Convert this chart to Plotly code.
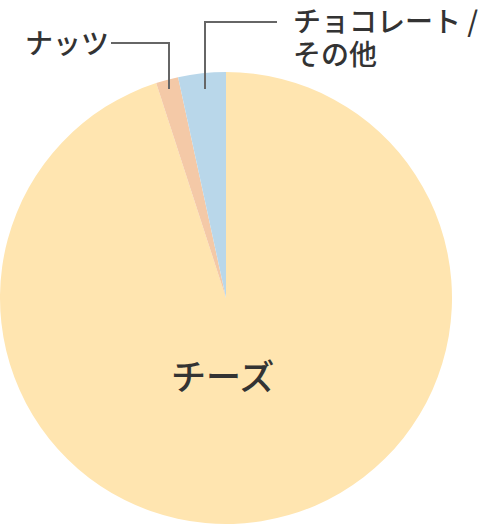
import plotly.graph_objects as go

# データ (12時から時計回り: チーズ → ナッツ → チョコレート)
labels = ["チーズ", "ナッツ", "チョコレート / その他"]
values = [95.0, 1.6, 3.4]
colors = ["#FFE5B0", "#F4C9A7", "#B9D7EA"]

W, H = 484, 526
FONT = "Noto Sans CJK JP"
TEXT_COLOR = "#333333"
LINE_COLOR = "#666666"


def px(x):
    return x / W


def py(y):
    return 1 - y / H


fig = go.Figure()

fig.add_trace(go.Pie(
    labels=labels,
    values=values,
    marker=dict(colors=colors, line=dict(width=0)),
    sort=False,
    direction="clockwise",
    rotation=0,
    textinfo="none",
    showlegend=False,
    domain=dict(x=[0, px(452)], y=[py(524), py(72)]),
))

# ラベル
def label(text, x, y, size, xanchor="center"):
    fig.add_annotation(text=text, x=px(x), y=py(y), xref="paper", yref="paper",
                       xanchor=xanchor, yanchor="middle", showarrow=False,
                       font=dict(family=FONT, size=size, color=TEXT_COLOR, weight=500))


label("チーズ", 222, 374, 35)
label("ナッツ", 111, 42, 28, "right")
label("チョコレート /", 291, 20, 28, "left")
label("その他", 291, 53, 28, "left")

# 引き出し線
line = dict(color=LINE_COLOR, width=2)
fig.add_shape(type="path", xref="paper", yref="paper", line=line,
              path=f"M {px(111)} {py(43)} L {px(169)} {py(43)} L {px(169)} {py(89)}")
fig.add_shape(type="path", xref="paper", yref="paper", line=line,
              path=f"M {px(205)} {py(89)} L {px(205)} {py(22)} L {px(277)} {py(22)}")

fig.update_layout(
    width=W, height=H,
    margin=dict(l=0, r=0, t=0, b=0),
    paper_bgcolor="white",
    plot_bgcolor="white",
    font=dict(family=FONT),
)

fig.write_html("out.html", config={"displayModeBar": False},
               post_script="document.body.style.margin='0';")
